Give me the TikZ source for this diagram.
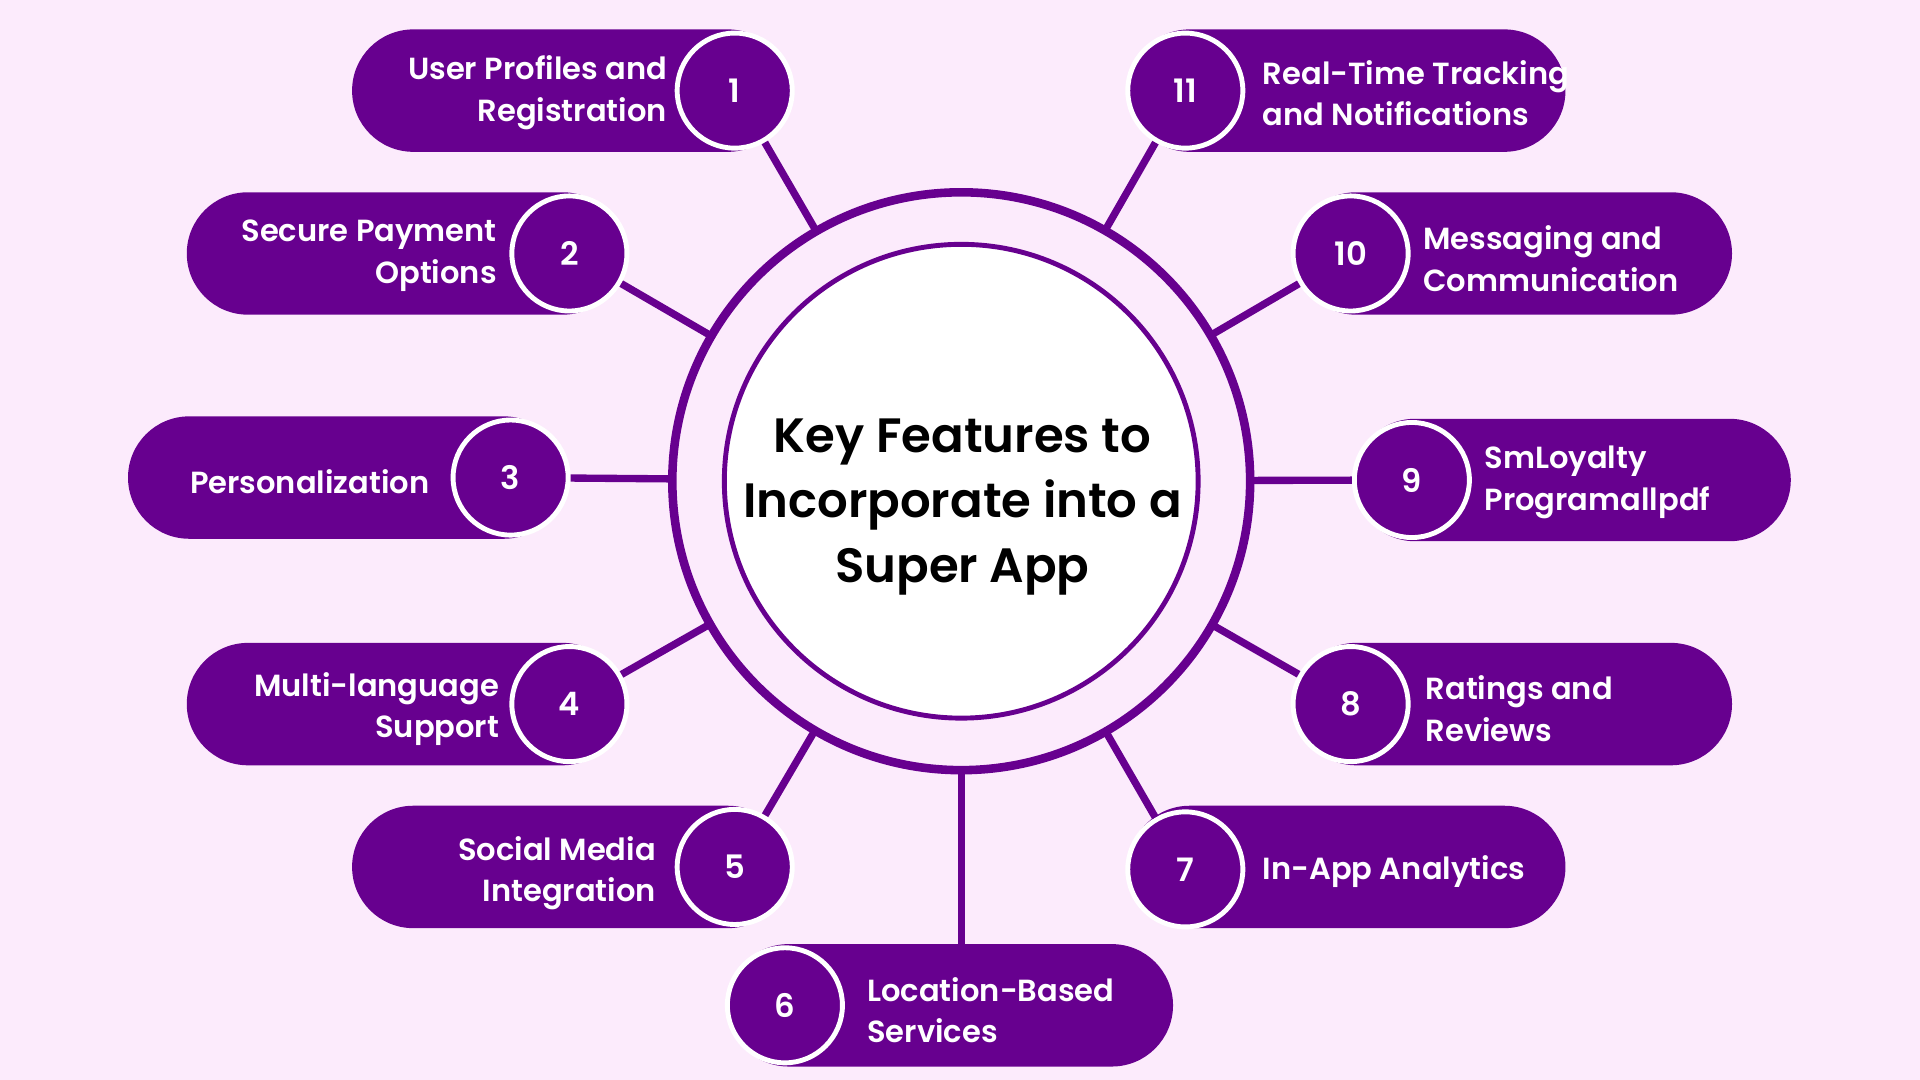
\documentclass[tikz,border=0pt]{standalone}
\usepackage{fontspec}
\setmainfont{Poppins}[BoldFont={* SemiBold}]
\usetikzlibrary{calc}
\definecolor{bgpink}{HTML}{FCEBFC}
\definecolor{appviolet}{HTML}{67008F}
\tikzset{
  pill/.style={fill=appviolet, rounded corners=1cm, minimum width=7.14cm, minimum height=2cm, inner sep=0pt},
  num/.style={circle, fill=appviolet, draw=white, line width=0.08cm, minimum size=1.88cm, text=white, font=\bfseries\fontsize{15}{18}\selectfont},
  ltxt/.style={anchor=east, align=right, text=white, font=\bfseries\fontsize{14.2}{19.4}\selectfont, inner sep=0pt},
  rtxt/.style={anchor=west, align=left, text=white, font=\bfseries\fontsize{14.2}{19.4}\selectfont, inner sep=0pt},
  conn/.style={draw=appviolet, line width=0.12cm}
}
\begin{document}
\begin{tikzpicture}[x=0.02cm, y=-0.02cm]
  \fill[bgpink] (0,0) rectangle (1568,882);
  \useasboundingbox (0,0) rectangle (1568,882);

  % hub
  \coordinate (c) at (785,393);
  \draw[appviolet, line width=0.14cm] (c) circle[radius=4.72cm];
  \draw[appviolet, fill=white, line width=0.08cm] (c) circle[radius=3.87cm];
  \node[align=center, inner sep=0pt, font=\bfseries\fontsize{22.4}{30.2}\selectfont] (hub) at (786,414)
        {Key Features to\\Incorporate into a\\Super App};

  % left side
  \node[pill] (p1) at (466,74) {};
  \node[num] (n1) at (600,74) {1};
  \node[ltxt] (t1) at (545,76) {User Profiles and\\Registration};

  \node[pill] (p2) at (331,207) {};
  \node[num] (n2) at (465,207) {2};
  \node[ltxt] (t2) at (406,209) {Secure Payment\\Options};

  \node[pill] (p3) at (283,390) {};
  \node[num] (n3) at (417,390) {3};
  \node[ltxt] (t3) at (351,393) {Personalization};

  \node[pill] (p4) at (331,575) {};
  \node[num] (n4) at (465,575) {4};
  \node[ltxt] (t4) at (408,579) {Multi-language\\Support};

  \node[pill] (p5) at (466,708) {};
  \node[num] (n5) at (600,708) {5};
  \node[ltxt] (t5) at (536,713) {Social Media\\Integration};

  % bottom
  \node[pill, minimum width=7.28cm] (p6) at (776,821) {};
  \node[num] (n6) at (641,821) {6};
  \node[rtxt] (t6) at (708,825) {Location-Based\\Services};

  % right side
  \node[pill] (p7) at (1100,708) {};
  \node[num] (n7) at (968,710) {7};
  \node[rtxt] (t7) at (1031,712) {In-App Analytics};

  \node[pill] (p8) at (1236,575) {};
  \node[num] (n8) at (1103,575) {8};
  \node[rtxt] (t8) at (1164,579) {Ratings and\\Reviews};

  \node[pill] (p9) at (1284,392) {};
  \node[num] (n9) at (1153,392) {9};
  \node[rtxt] (t9) at (1212,394) {SmLoyalty\\Programallpdf};

  \node[pill] (p10) at (1236,207) {};
  \node[num] (n10) at (1103,207) {10};
  \node[rtxt] (t10) at (1162,211) {Messaging and\\Communication};

  \node[pill] (p11) at (1100,74) {};
  \node[num] (n11) at (968,74) {11};
  \node[rtxt] (t11) at (1031,76) {Real-Time Tracking\\and Notifications};

  % connectors
  \foreach \k in {1,2,3,4,5,7,8,9,10,11}
    \draw[conn] ($(c)!4.72cm!(n\k)$) -- (n\k);
  \coordinate (e6) at (p6.north -| c);
  \draw[conn] ($(c)!4.72cm!(e6)$) -- (e6);
\end{tikzpicture}
\end{document}
